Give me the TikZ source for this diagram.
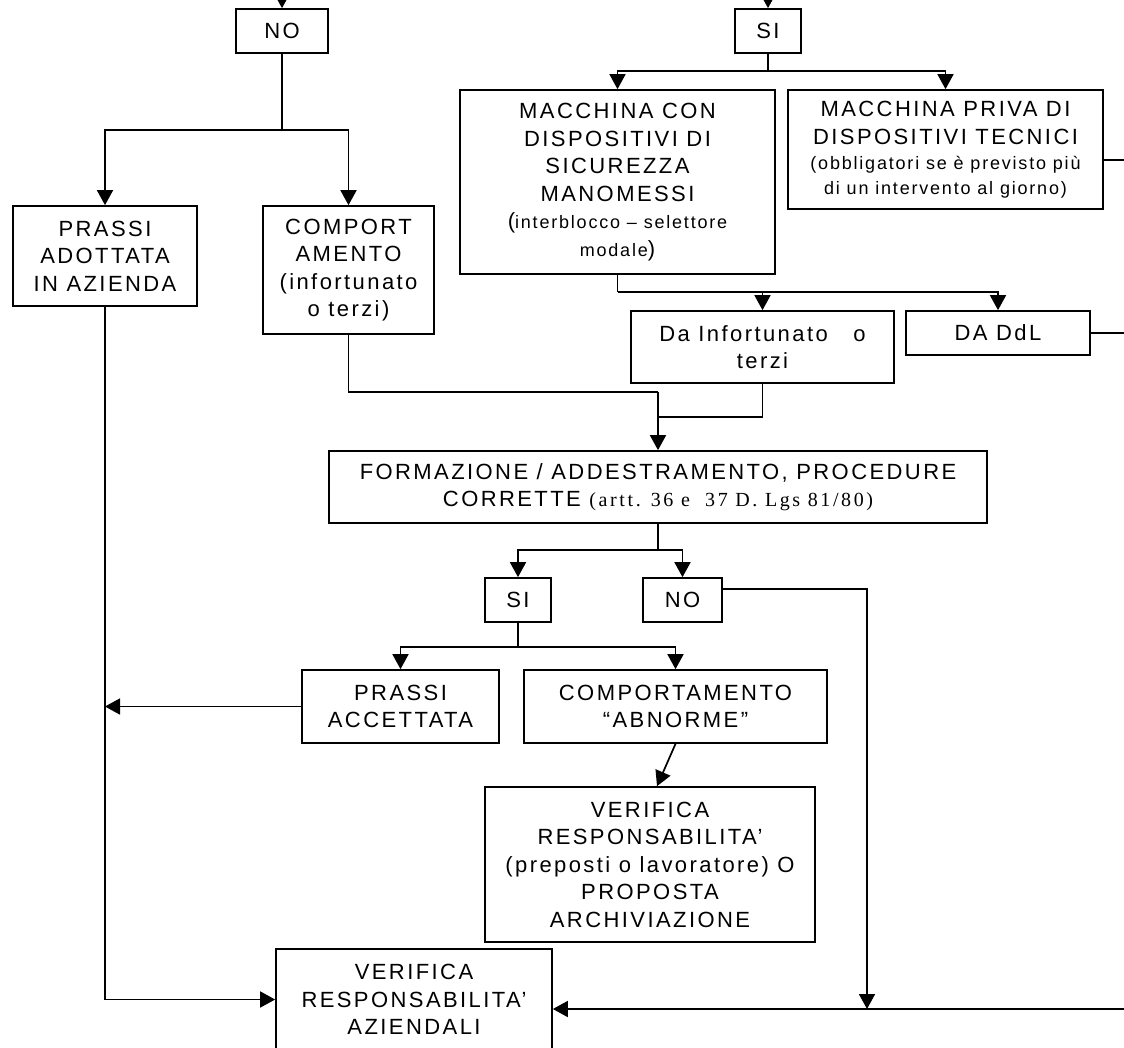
\documentclass[tikz,border=0pt]{standalone}
\usepackage{fontspec}
\setmainfont{Liberation Sans}[LetterSpace=11]
\newfontfamily\serifLS{Liberation Serif}[LetterSpace=13]
\newfontfamily\smallLS{Liberation Sans}[LetterSpace=10]
\usetikzlibrary{arrows.meta}
\begin{document}
\begin{tikzpicture}[x=1pt,y=-1pt,
  box/.style={draw, line width=1.7pt, align=center, inner sep=0pt, font=\fontsize{22}{27.5}\selectfont},
  arr/.style={-{Triangle[length=15pt,width=16pt]}, line width=1.7pt},
  ln/.style={line width=1.7pt}]
\useasboundingbox (0,0) rectangle (1124,1047);

\node[box, minimum width=92pt, minimum height=44pt] (noTop) at (282,31) {NO};
\node[box, minimum width=66pt, minimum height=44pt] (siTop) at (768,31) {SI};
\node[box, minimum width=184pt, minimum height=100pt] (prassiAd) at (105,256) {PRASSI\\ADOTTATA\\IN AZIENDA};
\node[box, minimum width=171pt, minimum height=128pt] (comport) at (348.5,270) {COMPORT\\AMENTO\\(infortunato\\o terzi)};
\node[box, minimum width=315pt, minimum height=184pt] (macCon) at (617.5,182) {MACCHINA CON\\DISPOSITIVI DI\\SICUREZZA\\MANOMESSI\\(\smallLS\fontsize{18}{28}\selectfont interblocco – selettore\\{\smallLS\fontsize{18}{28}\selectfont modale}\fontsize{22}{28}\selectfont)};
\node[box, minimum width=315pt, minimum height=119pt] (macPriva) at (945.5,149.5) {MACCHINA PRIVA DI\\DISPOSITIVI TECNICI\\[-2pt]{\smallLS\fontsize{18}{25}\selectfont (obbligatori se è previsto più}\\[-3pt]{\smallLS\fontsize{18}{25}\selectfont di un intervento al giorno)}};
\node[box, minimum width=263pt, minimum height=72pt] (daInf) at (762.5,347) {Da Infortunato\ \ \ o\\terzi};
\node[box, minimum width=184pt, minimum height=44pt] (daDdl) at (998,333) {DA DdL};
\node[box, minimum width=658pt, minimum height=72pt] (formaz) at (658,487) {FORMAZIONE / ADDESTRAMENTO, PROCEDURE\\CORRETTE {\serifLS\fontsize{20}{28}\selectfont (artt. 36 e\ \ 37 D. Lgs 81/80)}};
\node[box, minimum width=66pt, minimum height=44pt] (si2) at (518,600) {SI};
\node[box, minimum width=79pt, minimum height=44pt] (no2) at (682.5,600) {NO};
\node[box, minimum width=197pt, minimum height=73pt] (prassiAcc) at (400.5,706.5) {PRASSI\\ACCETTATA};
\node[box, minimum width=303pt, minimum height=73pt] (abnorme) at (675.5,706.5) {COMPORTAMENTO\\“ABNORME”};
\node[box, minimum width=330pt, minimum height=155pt] (verPrep) at (650,864.5) {VERIFICA\\RESPONSABILITA’\\(preposti o lavoratore) O\\PROPOSTA\\ARCHIVIAZIONE};
\node[box, minimum width=276pt, minimum height=101pt] (verAz) at (414,999.5) {VERIFICA\\RESPONSABILITA’\\AZIENDALI};

\coordinate (inNo) at (282,-20);
\coordinate (inSi) at (768,-20);
\draw[arr] (inNo) -- (noTop);
\draw[arr] (inSi) -- (siTop);

\coordinate (j1) at (282,130);
\draw[ln] (noTop) -- (j1);
\draw[arr] (j1) -| (prassiAd);
\draw[arr] (j1) -| (comport);

\coordinate (j2) at (768,71);
\draw[ln] (siTop) -- (j2);
\draw[arr] (j2) -| (macCon);
\draw[arr] (j2) -| (macPriva);

\coordinate (j3) at (617.5,292);
\draw[ln] (macCon) -- (j3);
\draw[arr] (j3) -| (daInf);
\draw[arr] (j3) -| (daDdl);

\coordinate (r1) at (1130,160);
\draw[ln] (r1 -| macPriva.east) -- (r1);
\coordinate (r2) at (1130,333);
\draw[ln] (daDdl) -- (r2);

\coordinate (j4) at (658,392);
\coordinate (j5) at (658,417);
\draw[ln] (comport) |- (j4);
\draw[ln] (daInf) |- (j5);
\draw[arr] (j4) -- (formaz);

\coordinate (j6) at (658,550);
\draw[ln] (formaz) -- (j6);
\draw[arr] (j6) -| (si2);
\draw[arr] (j6) -| (no2);

\coordinate (j7) at (867,589);
\coordinate (j8) at (867,1009);
\draw[arr] (j7 -| no2.east) -- (j7) -- (j8);
\coordinate (r3) at (1130,1009);
\draw[arr] (r3) -- (r3 -| verAz.east);

\coordinate (j9) at (518,647);
\draw[ln] (si2) -- (j9);
\draw[arr] (j9) -| (prassiAcc);
\draw[arr] (j9) -| (abnorme);

\draw[arr] (prassiAcc) -- (prassiAcc.west -| prassiAd.south);
\draw[arr] (prassiAd) |- (verAz);
\draw[arr] (abnorme.south) -- ([xshift=7pt]verPrep.north);
\end{tikzpicture}
\end{document}
